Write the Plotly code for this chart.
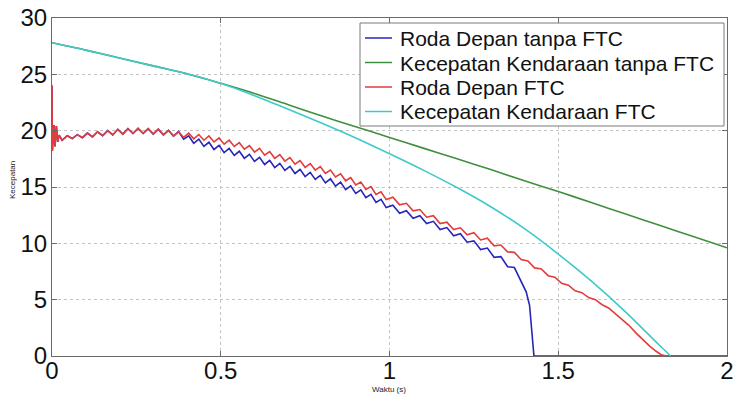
import plotly.graph_objects as go

# ---- data ----
# shared start of both wheel-speed curves (red & blue identical until ~0.38 s)
t_start = [0.0, 0.001, 0.006, 0.009, 0.013, 0.017, 0.021,
           0.030, 0.045, 0.060, 0.075, 0.090, 0.105, 0.120, 0.135, 0.150, 0.165,
           0.180, 0.195, 0.210, 0.225, 0.240, 0.255, 0.270, 0.285, 0.300, 0.315,
           0.330, 0.345, 0.360, 0.375]
v_start = [24.0, 18.2, 20.5, 18.6, 20.4, 19.0, 19.6,
           19.15, 19.55, 19.30, 19.65, 19.38, 19.78, 19.45, 19.90, 19.55, 20.00,
           19.62, 20.12, 19.70, 20.18, 19.75, 20.20, 19.75, 20.18, 19.70, 20.13,
           19.63, 20.03, 19.52, 19.92]

t_red_tail = [0.390, 0.405, 0.420, 0.435, 0.450, 0.465, 0.480, 0.495, 0.510, 0.525,
              0.540, 0.555, 0.570, 0.585, 0.600, 0.615, 0.630, 0.645, 0.660, 0.675,
              0.690, 0.705, 0.720, 0.735, 0.750, 0.765, 0.780, 0.795, 0.810, 0.825,
              0.840, 0.855, 0.870, 0.885, 0.900, 0.915, 0.930, 0.945, 0.960, 0.975,
              0.990, 1.010, 1.030, 1.050, 1.070, 1.090, 1.110, 1.130, 1.150, 1.170,
              1.190, 1.210, 1.230, 1.250, 1.270, 1.290, 1.310, 1.330, 1.350, 1.370,
              1.390, 1.410, 1.430, 1.450, 1.470, 1.490, 1.510, 1.530, 1.550, 1.570,
              1.590, 1.610, 1.630, 1.650, 1.670, 1.690, 1.710, 1.730, 1.750, 1.770,
              1.790, 1.805, 1.820]
v_red_tail = [19.40, 19.78, 19.28, 19.66, 19.15, 19.53, 19.00, 19.36, 18.80, 19.16,
              18.60, 18.93, 18.35, 18.68, 18.10, 18.43, 17.83, 18.15, 17.55, 17.88,
              17.30, 17.61, 17.02, 17.35, 16.75, 17.08, 16.50, 16.81, 16.20, 16.51,
              15.90, 16.18, 15.55, 15.83, 15.18, 15.43, 14.78, 15.03, 14.33, 14.58,
              13.88, 14.10, 13.42, 13.55, 12.88, 13.00, 12.32, 12.45, 11.75, 11.88,
              11.22, 11.38, 10.75, 10.95, 10.30, 10.45, 9.78, 9.85, 9.24, 9.20,
              8.56, 8.44, 7.82, 7.72, 7.13, 7.00, 6.45, 6.28, 5.78, 5.62,
              5.18, 5.00, 4.55, 4.24, 3.72, 3.27, 2.70, 2.05, 1.45, 0.90,
              0.42, 0.12, 0.0]

t_blue_tail = [0.390, 0.405, 0.420, 0.435, 0.450, 0.465, 0.480, 0.495, 0.510, 0.525,
               0.540, 0.555, 0.570, 0.585, 0.600, 0.615, 0.630, 0.645, 0.660, 0.675,
               0.690, 0.705, 0.720, 0.735, 0.750, 0.765, 0.780, 0.795, 0.810, 0.825,
               0.840, 0.855, 0.870, 0.885, 0.900, 0.915, 0.930, 0.945, 0.960, 0.975,
               0.990, 1.010, 1.030, 1.050, 1.070, 1.090, 1.110, 1.130, 1.150, 1.170,
               1.190, 1.210, 1.230, 1.250, 1.270, 1.290, 1.310, 1.330, 1.350, 1.370,
               1.390, 1.405, 1.415, 1.420, 1.425, 1.428, 2.000]
v_blue_tail = [19.25, 19.55, 18.88, 19.25, 18.60, 18.97, 18.33, 18.70, 18.05, 18.42,
               17.80, 18.17, 17.55, 17.90, 17.27, 17.63, 17.00, 17.37, 16.73, 17.10,
               16.47, 16.83, 16.20, 16.57, 15.93, 16.30, 15.67, 16.03, 15.37, 15.73,
               15.07, 15.43, 14.77, 15.10, 14.43, 14.75, 14.05, 14.35, 13.63, 13.90,
               13.17, 13.38, 12.67, 12.90, 12.22, 12.45, 11.75, 11.95, 11.22, 11.40,
               10.67, 10.85, 10.10, 10.22, 9.45, 9.58, 8.76, 8.82, 7.92, 7.85,
               6.70, 5.70, 4.50, 3.00, 1.20, 0.0, 0.0]

t_green = [0.0, 0.1, 0.2, 0.3, 0.4, 0.5, 0.6, 0.7, 0.8, 0.9, 1.0,
           1.1, 1.2, 1.3, 1.4, 1.5, 1.6, 1.7, 1.8, 1.9, 2.0]
v_green = [27.8, 27.15, 26.45, 25.75, 25.05, 24.2, 23.3, 22.3, 21.3, 20.35, 19.4,
           18.45, 17.5, 16.55, 15.55, 14.6, 13.6, 12.6, 11.6, 10.6, 9.6]

t_cyan = [0.0, 0.1, 0.2, 0.3, 0.4, 0.5, 0.6, 0.7, 0.8, 0.9, 1.0,
          1.1, 1.2, 1.3, 1.4, 1.5, 1.6, 1.7, 1.8, 1.833]
v_cyan = [27.8, 27.15, 26.45, 25.75, 25.05, 24.2, 23.1, 21.9, 20.65, 19.35, 17.95,
          16.5, 14.95, 13.25, 11.3, 9.05, 6.6, 3.9, 0.95, 0.0]

names = ["Roda Depan tanpa FTC", "Kecepatan Kendaraan tanpa FTC",
         "Roda Depan FTC", "Kecepatan Kendaraan FTC"]
colors = ["#2626b8", "#3f8f3f", "#e23c3c", "#3fc9c9"]
smooth = [False, True, False, True]

x_ticks = [0, 0.5, 1, 1.5, 2]
x_tick_text = ["0", "0.5", "1", "1.5", "2"]
y_ticks = [0, 5, 10, 15, 20, 25, 30]

series = [
    (t_start + t_blue_tail, v_start + v_blue_tail),
    (t_green, v_green),
    (t_start + t_red_tail, v_start + v_red_tail),
    (t_cyan, v_cyan),
]

FONT = "Liberation Sans, Arial, Helvetica, sans-serif"

fig = go.Figure()
for (xs, ys), nm, col, sm in zip(series, names, colors, smooth):
    fig.add_trace(go.Scatter(x=xs, y=ys, mode="lines", name=nm, showlegend=False,
                             line=dict(color=col, width=1.6,
                                       shape="spline" if sm else "linear",
                                       smoothing=0.8)))

axis_common = dict(
    showline=True, linecolor="#6a6a6a", linewidth=1.2, mirror="ticks",
    ticks="inside", ticklen=5, tickcolor="#6a6a6a",
    showgrid=True, gridcolor="#c4c4c4", griddash="dot", gridwidth=1,
    zeroline=False, automargin=False,
    tickfont=dict(family=FONT, size=24, color="#111"),
)

# ---- legend box drawn in paper coordinates ----
PL, PW, PB, PH = 52, 675, 356, 338  # plot-area pixel geometry
def px(x):
    return (x - PL) / PW
def py(y):
    return (PB - y) / PH

shapes = [dict(type="rect", xref="paper", yref="paper",
               x0=px(360), x1=px(724), y0=py(126), y1=py(23),
               fillcolor="white", line=dict(color="#7a7a7a", width=1), layer="above")]
annotations = []
row_y = [38, 62.5, 87, 111.5]
for nm, col, ry in zip(names, colors, row_y):
    shapes.append(dict(type="line", xref="paper", yref="paper",
                       x0=px(365), x1=px(392), y0=py(ry), y1=py(ry),
                       line=dict(color=col, width=1.5), layer="above"))
    annotations.append(dict(xref="paper", yref="paper", x=px(398), y=py(ry + 0.5),
                            xanchor="left", yanchor="middle", showarrow=False,
                            text=nm, font=dict(family=FONT, size=21, color="#111")))

# axis titles
annotations.append(dict(xref="paper", yref="paper", x=px(389), y=py(389),
                        xanchor="center", yanchor="middle", showarrow=False,
                        text="Waktu (s)", font=dict(family=FONT, size=8, color="#222")))
annotations.append(dict(xref="paper", yref="paper", x=px(12), y=py(180),
                        xanchor="center", yanchor="middle", showarrow=False, textangle=-90,
                        text="Kecepatan", font=dict(family=FONT, size=8, color="#222")))

fig.update_layout(
    width=736, height=397,
    margin=dict(l=52, r=9, t=18, b=41),
    paper_bgcolor="white", plot_bgcolor="white",
    showlegend=False,
    shapes=shapes,
    annotations=annotations,
    xaxis=dict(range=[0, 2], tickvals=x_ticks, ticktext=x_tick_text,
               ticklabelstandoff=-7, **axis_common),
    yaxis=dict(range=[0, 30], tickvals=y_ticks,
               ticklabelstandoff=-1, **axis_common),
)

fig.write_html("out.html")
